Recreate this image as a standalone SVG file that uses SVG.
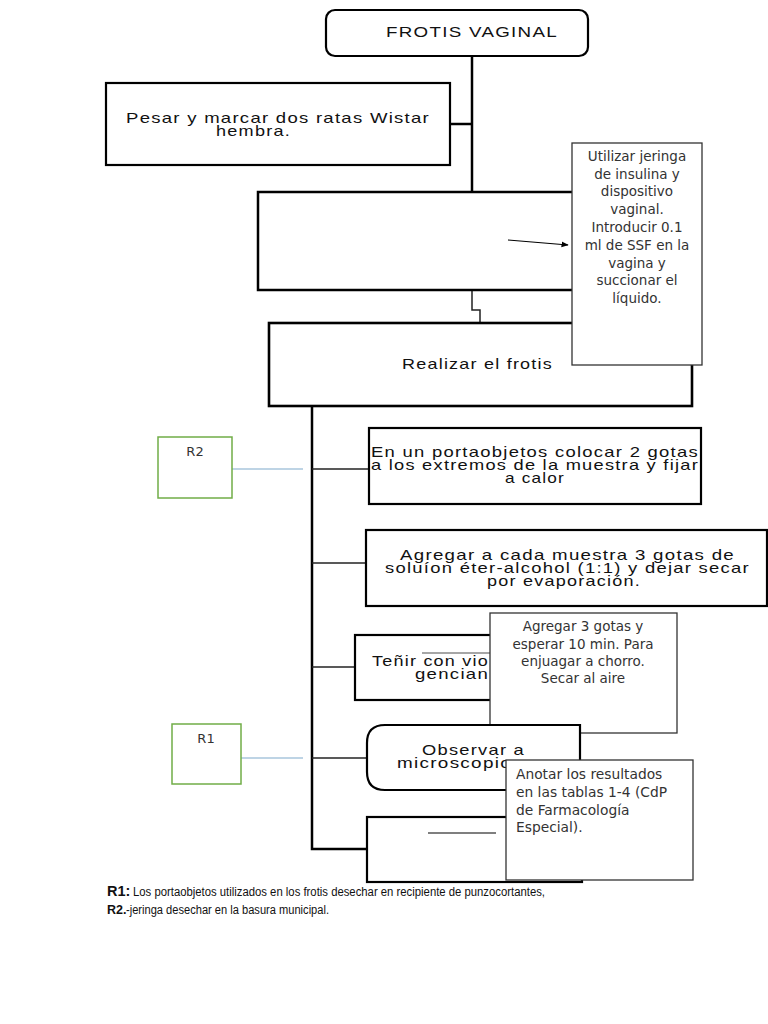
<svg xmlns="http://www.w3.org/2000/svg" width="768" height="1024" viewBox="0 0 768 1024">
<style>
.box{fill:#fff;stroke:#000;stroke-width:2.2}
.note{fill:#fff;stroke:#333;stroke-width:1.3}
.rbox{fill:#fff;stroke:#70ad47;stroke-width:1.5}
.ln{fill:none;stroke:#000;stroke-width:2.5}
.thin{fill:none;stroke:#222;stroke-width:1.5}
.blue{fill:none;stroke:#a8c6dc;stroke-width:1.5}
.a{font-family:"Liberation Sans",Arial,sans-serif;font-size:14.5px;letter-spacing:1px;fill:#111}
.d{font-family:"DejaVu Sans","Noto Sans",sans-serif;font-size:13.5px;fill:#333;text-anchor:middle}
.dl{font-family:"DejaVu Sans","Noto Sans",sans-serif;font-size:13.8px;fill:#333}
.f{font-family:"Liberation Sans",Arial,sans-serif;font-size:12px;fill:#111}
</style>
<defs>
<marker id="ah" viewBox="0 0 10 10" refX="9" refY="5" markerWidth="6" markerHeight="6" orient="auto"><path d="M0,1 L10,5 L0,9 z" fill="#000"/></marker>
</defs>
<g id="connectors">
<path class="ln" d="M472,56 V192"/>
<path class="ln" d="M450,124 H472"/>
<path class="thin" d="M472,290 V310 H480 V323"/>
<path class="ln" d="M312,406 V849 H367"/>
<path class="thin" d="M312,469 H369"/>
<path class="thin" d="M312,563 H366"/>
<path class="thin" d="M312,667 H355"/>
<path class="thin" d="M312,758 H367"/>
<path class="thin" d="M579,733 V760"/>
<path class="blue" d="M232,469 H303"/>
<path class="blue" d="M233,758 H303"/>
</g>
<g id="n-frotis">
<rect class="box" x="326" y="10" width="262" height="46" rx="9"/>
<text class="a" x="386" y="37" font-size="15" textLength="172" lengthAdjust="spacingAndGlyphs">FROTIS VAGINAL</text>
</g>
<g id="n-pesar">
<rect class="box" x="106" y="83" width="344" height="82"/>
<text class="a"><tspan x="126" y="123" textLength="304" lengthAdjust="spacingAndGlyphs">Pesar y marcar dos ratas Wistar</tspan><tspan x="216" y="136" textLength="75" lengthAdjust="spacingAndGlyphs">hembra.</tspan></text>
</g>
<g id="n-box3">
<rect class="box" x="258" y="192" width="430" height="98" style="stroke-width:2.5"/>
<path d="M508,240 L568,245" stroke="#000" stroke-width="1.2" marker-end="url(#ah)"/>
</g>
<g id="n-realizar">
<rect class="box" x="269" y="323" width="423" height="83" style="stroke-width:2.6"/>
<text class="a" x="402" y="369" font-size="15" textLength="151" lengthAdjust="spacingAndGlyphs">Realizar el frotis</text>
</g>
<g id="n-note1">
<rect class="note" x="572" y="143" width="130" height="222"/>
<text class="d"><tspan x="637" y="161">Utilizar jeringa</tspan><tspan x="637" y="179">de insulina y</tspan><tspan x="637" y="196">dispositivo</tspan><tspan x="637" y="214">vaginal.</tspan><tspan x="637" y="232">Introducir 0.1</tspan><tspan x="637" y="250">ml de SSF en la</tspan><tspan x="637" y="268">vagina y</tspan><tspan x="637" y="285">succionar el</tspan><tspan x="637" y="303">líquido.</tspan></text>
</g>
<g id="n-portaobjetos">
<rect class="box" x="369" y="428" width="332" height="76"/>
<text class="a"><tspan x="371" y="457" textLength="328" lengthAdjust="spacingAndGlyphs">En un portaobjetos colocar 2 gotas</tspan><tspan x="371" y="470" textLength="328" lengthAdjust="spacingAndGlyphs">a los extremos de la muestra y fijar</tspan><tspan x="505" y="483" textLength="60" lengthAdjust="spacingAndGlyphs">a calor</tspan></text>
</g>
<g id="n-eter">
<rect class="box" x="366" y="530" width="401" height="76"/>
<text class="a"><tspan x="400" y="560" textLength="335" lengthAdjust="spacingAndGlyphs">Agregar a cada muestra 3 gotas de</tspan><tspan x="385" y="573" textLength="365" lengthAdjust="spacingAndGlyphs">soluíon éter-alcohol (1:1) y dejar secar</tspan><tspan x="487" y="586" textLength="154" lengthAdjust="spacingAndGlyphs">por evaporación.</tspan></text>
</g>
<g id="n-tenir">
<rect class="box" x="355" y="635" width="200" height="65"/>
<path d="M422,653 H490" stroke="#888" stroke-width="1.5"/>
<text class="a"><tspan x="372" y="666" textLength="117" lengthAdjust="spacingAndGlyphs">Teñir con vio</tspan><tspan x="415" y="679" textLength="74" lengthAdjust="spacingAndGlyphs">gencian</tspan></text>
</g>
<g id="n-note2">
<rect class="note" x="490" y="613" width="187" height="120"/>
<text class="d"><tspan x="583" y="631">Agregar 3 gotas y</tspan><tspan x="583" y="649">esperar 10 min. Para</tspan><tspan x="583" y="666">enjuagar a chorro.</tspan><tspan x="583" y="683">Secar al aire</tspan></text>
</g>
<g id="n-observar">
<path class="box" d="M385,725 H580 V790 H385 Q367,790 367,772 V743 Q367,725 385,725 Z"/>
<text class="a"><tspan x="422" y="755" textLength="103" lengthAdjust="spacingAndGlyphs">Observar a</tspan><tspan x="397" y="768" textLength="115" lengthAdjust="spacingAndGlyphs">microscopio</tspan></text>
</g>
<g id="n-last">
<rect class="box" x="367" y="817" width="215" height="65"/>
<path d="M428,833 H496" stroke="#555" stroke-width="1.5"/>
</g>
<g id="n-note3">
<rect class="note" x="506" y="760" width="187" height="120"/>
<text class="dl"><tspan x="516" y="779">Anotar los resultados</tspan><tspan x="516" y="797">en las tablas 1-4 (CdP</tspan><tspan x="516" y="815">de Farmacología</tspan><tspan x="516" y="832">Especial).</tspan></text>
</g>
<g id="n-r2">
<rect class="rbox" x="158" y="437" width="74" height="61"/>
<text class="d" x="195" y="456" style="font-size:13px">R2</text>
</g>
<g id="n-r1">
<rect class="rbox" x="172" y="724" width="69" height="60"/>
<text class="d" x="206" y="743" style="font-size:13px">R1</text>
</g>
<g id="footer">
<text class="f"><tspan x="107" y="896" font-weight="bold" font-size="14.5">R1:</tspan><tspan x="133" y="896" textLength="412" lengthAdjust="spacingAndGlyphs">Los portaobjetos utilizados en los frotis desechar en recipiente de punzocortantes,</tspan></text>
<text class="f"><tspan x="107" y="914" font-weight="bold" font-size="12.5">R2.</tspan><tspan x="126" y="914" textLength="203" lengthAdjust="spacingAndGlyphs">-jeringa desechar en la basura municipal.</tspan></text>
</g>
</svg>
